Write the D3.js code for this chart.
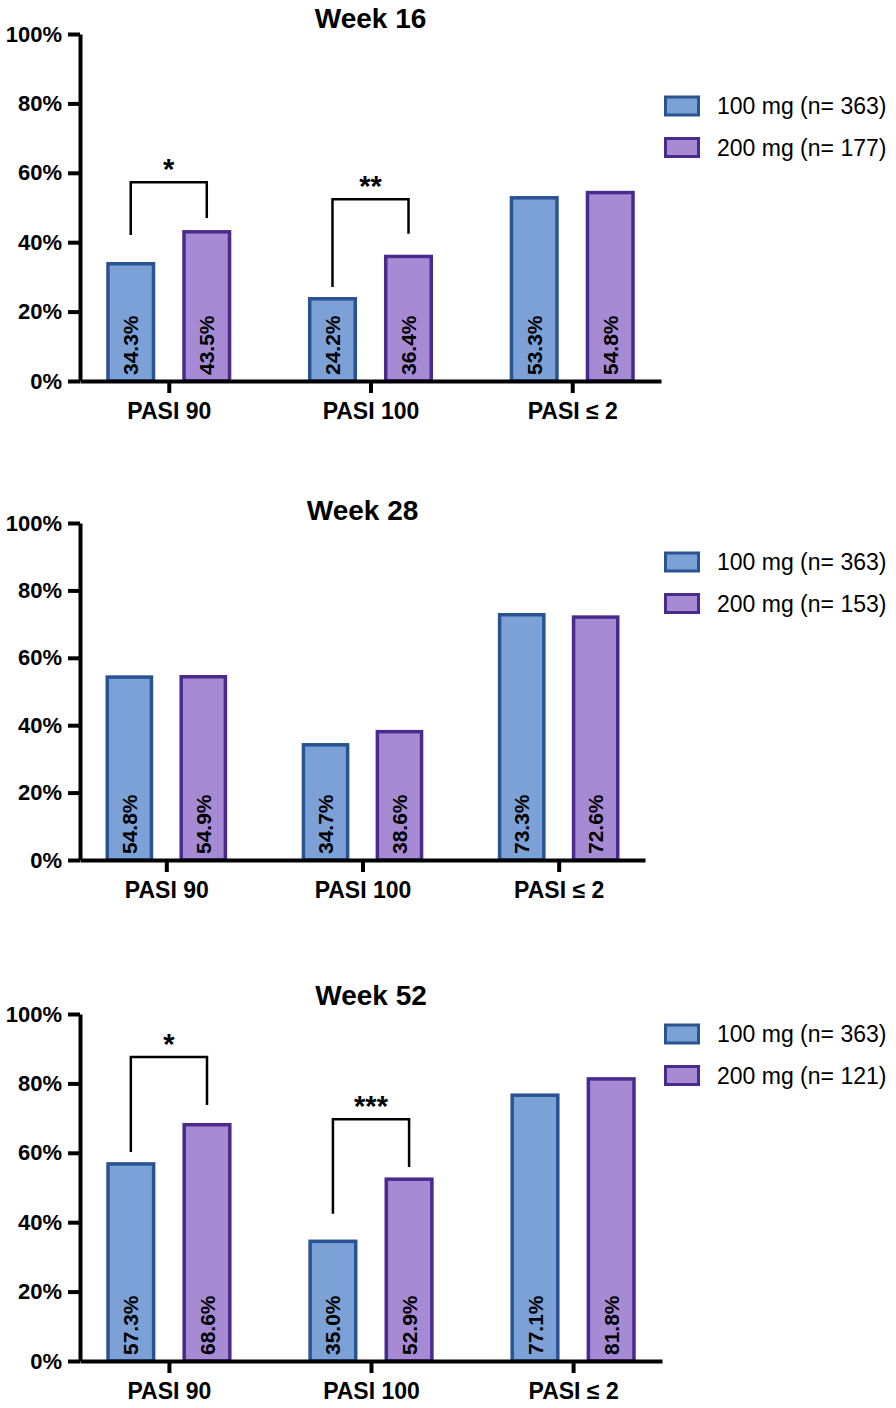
<!DOCTYPE html>
<html>
<head>
<meta charset="utf-8">
<script src="https://cdn.jsdelivr.net/npm/d3@7/dist/d3.min.js"></script>
<style>
  body { margin: 0; background: #fff; }
  svg { display: block; font-family: "Liberation Sans", Arial, sans-serif; }
</style>
</head>
<body>
<div id="chart"></div>
<script>
'use strict';

// data
const categories = ['PASI 90', 'PASI 100', 'PASI \u2264 2'];
const series = ['100 mg', '200 mg'];
const yTicks = [0, 20, 40, 60, 80, 100];

const week16Low = [34.3, 24.2, 53.3];
const week16High = [43.5, 36.4, 54.8];
const week28Low = [54.8, 34.7, 73.3];
const week28High = [54.9, 38.6, 72.6];
const week52Low = [57.3, 35.0, 77.1];
const week52High = [68.6, 52.9, 81.8];

const nLow = [363, 363, 363];
const nHigh = [177, 153, 121];

// significance brackets: top bar level and the two leg ends, in % units
const sig16 = [
  { cat: 'PASI 90', mark: '*', top: 57.3, left: 42.1, right: 47.0 },
  { cat: 'PASI 100', mark: '**', top: 52.4, left: 27.1, right: 42.4 }
];
const sig28 = [];
const sig52 = [
  { cat: 'PASI 90', mark: '*', top: 87.6, left: 60.2, right: 73.8 },
  { cat: 'PASI 100', mark: '***', top: 69.7, left: 42.4, right: 55.9 }
];

const fills = ['#7ba1d6', '#a68bd4'];
const strokes = ['#2a5394', '#4b2a8e'];

const svg = d3.select('#chart').append('svg')
    .attr('width', 896)
    .attr('height', 1408);

function drawPanel(p) {
  const w = p.right - p.left;
  const h = p.bottom - p.top;
  const g = svg.append('g')
      .attr('transform', `translate(${p.left}, ${p.top})`);

  const x = d3.scalePoint().domain(categories).range([0, w]).padding(0.44);
  const groupW = 0.62 * x.step();
  const x1 = d3.scaleBand().domain(series)
      .range([-groupW / 2, groupW / 2]).paddingInner(0.355);
  const y = d3.scaleLinear().domain([0, 100]).range([h, 0]);

  const rows = categories.map((c, i) => ({ cat: c, vals: [p.low[i], p.high[i]] }));

  // bars
  const sw = 3.5;
  const groups = g.selectAll('.grp')
      .data(rows)
    .enter().append('g')
      .attr('class', 'grp')
      .attr('transform', d => `translate(${x(d.cat)}, 0)`);

  groups.selectAll('rect')
      .data(d => d.vals.map((v, j) => ({ s: series[j], v: v, j: j })))
    .enter().append('rect')
      .attr('x', d => x1(d.s) + sw / 2)
      .attr('y', d => y(d.v) + sw / 2)
      .attr('width', x1.bandwidth() - sw)
      .attr('height', d => h - y(d.v) - sw / 2)
      .style('fill', d => fills[d.j])
      .style('stroke', d => strokes[d.j])
      .style('stroke-width', sw);

  groups.selectAll('.val')
      .data(d => d.vals.map((v, j) => ({ s: series[j], v: v })))
    .enter().append('text')
      .attr('class', 'val')
      .attr('transform', d => `translate(${x1(d.s) + x1.bandwidth() / 2}, ${h - 6}) rotate(-90)`)
      .attr('dy', '0.36em')
      .style('font-size', '21px')
      .style('font-weight', 'bold')
      .style('fill', '#000')
      .text(d => d.v.toFixed(1) + '%');

  // axes
  const yAxis = d3.axisLeft(y).tickValues(yTicks)
      .tickFormat(d => d + '%').tickSize(12).tickSizeOuter(0).tickPadding(6);
  const xAxis = d3.axisBottom(x).tickSize(12).tickSizeOuter(0).tickPadding(10);

  const ya = g.append('g').attr('class', 'y-axis').call(yAxis);
  const xa = g.append('g').attr('class', 'x-axis')
      .attr('transform', `translate(0, ${h})`).call(xAxis);

  [ya, xa].forEach(a => {
    a.select('.domain').style('stroke', '#000').style('stroke-width', 4);
    a.selectAll('.tick line').style('stroke', '#000').style('stroke-width', 4);
    a.selectAll('.tick text').style('fill', '#000')
        .style('font-size', '23px').style('font-weight', 'bold');
  });
  ya.selectAll('.tick text').style('font-size', '22px');

  // significance brackets
  p.sig.forEach(s => {
    const xl = x(s.cat) + x1(series[0]) + x1.bandwidth() / 2;
    const xr = x(s.cat) + x1(series[1]) + x1.bandwidth() / 2;
    g.append('path')
        .attr('d', `M${xl},${y(s.left)}V${y(s.top)}H${xr}V${y(s.right)}`)
        .style('fill', 'none')
        .style('stroke', '#000')
        .style('stroke-width', 2.5);
    g.append('text')
        .attr('x', (xl + xr) / 2)
        .attr('y', y(s.top) - 3)
        .attr('text-anchor', 'middle')
        .style('font-size', '29px')
        .style('font-weight', 'bold')
        .text(s.mark);
  });

  // title
  g.append('text')
      .attr('x', w / 2)
      .attr('y', p.titleY - p.top)
      .attr('dy', '0.36em')
      .attr('text-anchor', 'middle')
      .style('font-size', '28px')
      .style('font-weight', 'bold')
      .text(p.title);

  // legend
  const leg = svg.append('g')
      .attr('transform', `translate(664, ${p.legendY})`);
  const legItems = leg.selectAll('g')
      .data(series)
    .enter().append('g')
      .attr('transform', (d, i) => `translate(0, ${i * 41.5})`);
  legItems.append('rect')
      .attr('x', 1.5).attr('y', -9)
      .attr('width', 33).attr('height', 18)
      .style('fill', (d, i) => fills[i])
      .style('stroke', (d, i) => strokes[i])
      .style('stroke-width', 3);
  legItems.append('text')
      .attr('x', 53)
      .attr('dy', '0.36em')
      .style('font-size', '23px')
      .style('fill', '#000')
      .text((d, i) => `${d} (n= ${i === 0 ? p.nL : p.nH})`);
}

const panels = [
  { title: 'Week 16', low: week16Low, high: week16High, sig: sig16, nL: nLow[0], nH: nHigh[0],
    left: 80, right: 661, top: 34, bottom: 381, titleY: 18, legendY: 106 },
  { title: 'Week 28', low: week28Low, high: week28High, sig: sig28, nL: nLow[1], nH: nHigh[1],
    left: 80, right: 645, top: 523, bottom: 860, titleY: 510, legendY: 562 },
  { title: 'Week 52', low: week52Low, high: week52High, sig: sig52, nL: nLow[2], nH: nHigh[2],
    left: 80, right: 662, top: 1014, bottom: 1361, titleY: 995, legendY: 1034 }
];

panels.forEach(drawPanel);
</script>
</body>
</html>
